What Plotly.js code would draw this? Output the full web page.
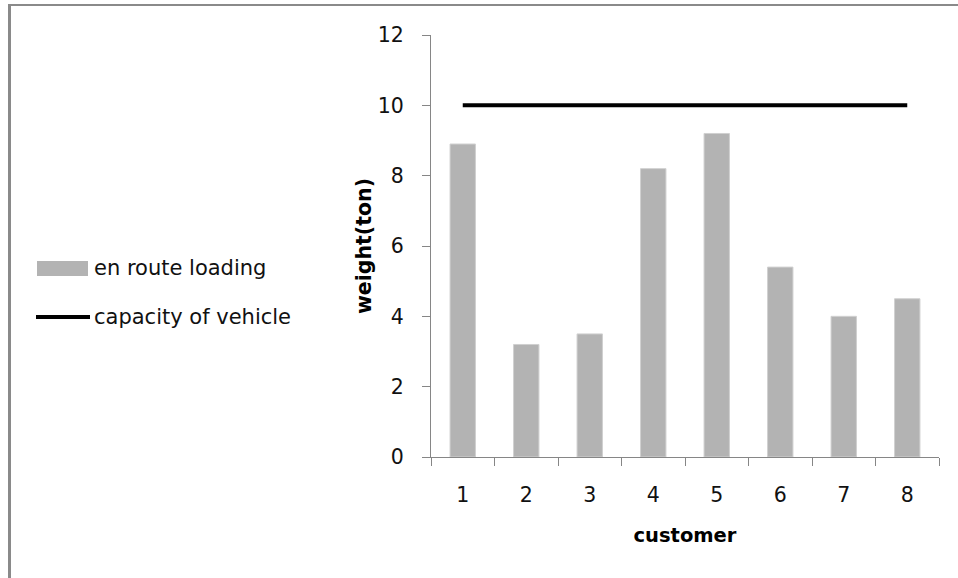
<!DOCTYPE html>
<html>
<head>
<meta charset="utf-8">
<script src="https://cdn.plot.ly/plotly-3.0.1.min.js"></script>
<style>
  html, body { margin: 0; padding: 0; background: #fff; overflow: hidden; }
  #chart { width: 958px; height: 578px; }
  #frame {
    position: absolute; left: 8px; top: 4px; right: 0; bottom: 0;
    border-top: 2px solid #8a8a8a; border-left: 3px solid #8a8a8a;
    pointer-events: none;
  }
</style>
</head>
<body>
<div id="chart"></div>
<div id="frame"></div>
<script>
// Customers served on the route
const customers = ['1', '2', '3', '4', '5', '6', '7', '8'];
// Load picked up en route at each customer (ton)
const enRouteLoading = [8.9, 3.2, 3.5, 8.2, 9.2, 5.4, 4.0, 4.5];
// Vehicle capacity (ton)
const vehicleCapacity = [10, 10, 10, 10, 10, 10, 10, 10];

const seriesNames = ['en route loading', 'capacity of vehicle'];
const xTitle = 'customer';
const yTitle = 'weight(ton)';

const W = 958, H = 578;
const M = { l: 431, r: 19, t: 35, b: 121 };
const plotW = W - M.l - M.r, plotH = H - M.t - M.b;
// pixel -> paper helpers for the hand-placed legend
const px = X => (X - M.l) / plotW;
const py = Y => (H - M.b - Y) / plotH;

const axisColor = '#868686';
const barColor = '#b3b3b3';
const textColor = '#111111';
const font = 'DejaVu Sans, Arial, sans-serif';

const traces = [
  {
    type: 'bar', x: customers, y: enRouteLoading, name: seriesNames[0],
    marker: { color: barColor, line: { color: '#d0d0d0', width: 1 } },
    showlegend: false, hoverinfo: 'x+y'
  },
  {
    type: 'scatter', mode: 'lines', x: customers, y: vehicleCapacity, name: seriesNames[1],
    line: { color: '#000000', width: 4 },
    showlegend: false, hoverinfo: 'x+y'
  }
];

const layout = {
  width: W, height: H,
  margin: M,
  paper_bgcolor: '#ffffff', plot_bgcolor: '#ffffff',
  bargap: 0.6,
  font: { family: font, size: 20, color: textColor },
  xaxis: {
    type: 'category', tickson: 'boundaries',
    showgrid: false, zeroline: false,
    showline: true, linecolor: axisColor, linewidth: 1,
    ticks: 'outside', ticklen: 8, tickcolor: axisColor, tickwidth: 1,
    ticklabelstandoff: 19,
    tickfont: { family: font, size: 20.5, color: textColor },
    title: { text: '<b>' + xTitle + '</b>', font: { family: font, size: 19.5, color: '#000' }, standoff: 22 }
  },
  yaxis: {
    range: [0, 12], dtick: 2,
    showgrid: false, zeroline: false,
    showline: true, linecolor: axisColor, linewidth: 1,
    ticks: 'outside', ticklen: 8, tickcolor: axisColor, tickwidth: 1,
    ticklabelstandoff: 14,
    tickfont: { family: font, size: 20.5, color: textColor },
    title: { text: '<b>' + yTitle + '</b>', font: { family: font, size: 20.5, color: '#000' }, standoff: 0 }
  },
  shapes: [
    { type: 'rect', xref: 'paper', yref: 'paper',
      x0: px(37), x1: px(88), y0: py(276), y1: py(261),
      fillcolor: barColor, line: { width: 0 } },
    { type: 'line', xref: 'paper', yref: 'paper',
      x0: px(36), x1: px(90), y0: py(317), y1: py(317),
      line: { color: '#000', width: 4 } }
  ],
  annotations: [
    { xref: 'paper', yref: 'paper', x: px(92), y: py(268), xanchor: 'left', yanchor: 'middle',
      text: seriesNames[0], showarrow: false, font: { family: font, size: 21, color: textColor } },
    { xref: 'paper', yref: 'paper', x: px(92), y: py(317), xanchor: 'left', yanchor: 'middle',
      text: seriesNames[1], showarrow: false, font: { family: font, size: 21, color: textColor } }
  ]
};

Plotly.newPlot('chart', traces, layout, { displayModeBar: false, staticPlot: true });
</script>
</body>
</html>
